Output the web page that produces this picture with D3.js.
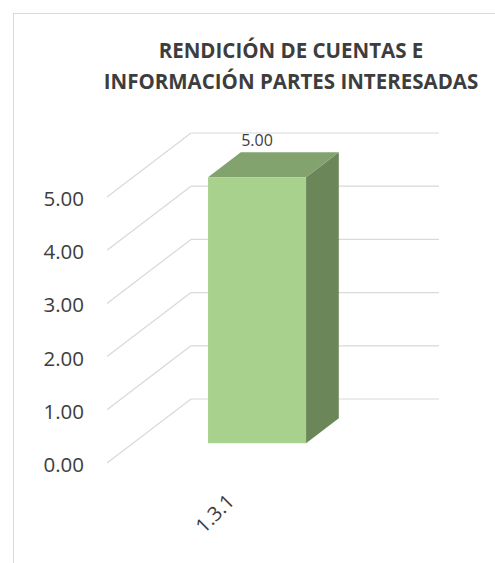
<!DOCTYPE html>
<html>
<head>
<meta charset="utf-8">
<script src="https://cdn.jsdelivr.net/npm/d3@7"></script>
<style>
  body { margin: 0; background: #fff; }
  text { font-family: "Open Sans", "Noto Sans", sans-serif; }
</style>
</head>
<body>
<svg id="chart" width="495" height="563"></svg>
<script>
// chart data
var categories = ['1.3.1'];
var values = [5.00];
var yTicks = [0, 1, 2, 3, 4, 5];
var titleLines = ['RENDICIÓN DE CUENTAS E', 'INFORMACIÓN PARTES INTERESADAS'];

var svg = d3.select('#chart');

// 3d oblique offset for full depth of the plot
var depthX = 84, depthY = 64;
var barD0 = 0.31, barD1 = 0.70;

var x = d3.scaleBand()
    .domain(categories)
    .range([107, 355])
    .paddingInner(0)
    .paddingOuter(0.765);

var y = d3.scaleLinear()
    .domain([0, 5])
    .range([463, 197]);

function proj(px, v, d) {
    return [px + d * depthX, y(v) - d * depthY];
}

// chart border
svg.append('rect')
    .attr('x', 13.5).attr('y', 13.5)
    .attr('width', 600).attr('height', 600)
    .attr('fill', 'none')
    .attr('stroke', '#d9d9d9')
    .attr('stroke-width', 1);

// title
svg.append('g').selectAll('text')
    .data(titleLines).enter()
    .append('text')
    .attr('x', 291)
    .attr('y', function(d, i){ return 58 + i * 31; })
    .attr('text-anchor', 'middle')
    .style('font-weight', 'bold')
    .style('font-size', '20.5px')
    .style('fill', '#3d3d3d')
    .text(function(d){ return d; });

var grid = svg.append('g').attr('class', 'grid')
    .attr('stroke', '#d9d9d9').attr('stroke-width', 1.2).attr('fill', 'none');

// side wall lines (front -> back)
grid.selectAll('.side')
    .data(yTicks).enter()
    .append('line')
    .attr('x1', x.range()[0])
    .attr('y1', function(d){ return y(d); })
    .attr('x2', function(d){ return proj(x.range()[0], d, 1)[0]; })
    .attr('y2', function(d){ return proj(x.range()[0], d, 1)[1]; });

// back wall lines
grid.selectAll('.back')
    .data(yTicks).enter()
    .append('line')
    .attr('x1', function(d){ return proj(x.range()[0], d, 1)[0]; })
    .attr('y1', function(d){ return proj(x.range()[0], d, 1)[1]; })
    .attr('x2', function(d){ return proj(x.range()[1], d, 1)[0]; })
    .attr('y2', function(d){ return proj(x.range()[1], d, 1)[1]; });

// y tick labels
svg.append('g').selectAll('text')
    .data(yTicks).enter()
    .append('text')
    .attr('x', 84)
    .attr('y', function(d){ return y(d) + 9; })
    .attr('text-anchor', 'end')
    .style('font-size', '20.5px')
    .style('fill', '#3d3d3d')
    .text(function(d){ return d3.format('.2f')(d); });

// bars
var bars = svg.append('g').selectAll('g')
    .data(values).enter()
    .append('g');

function poly(pts) {
    return 'M' + pts.map(function(p){ return p.join(','); }).join('L') + 'Z';
}

bars.each(function(v, i) {
    var g = d3.select(this);
    var x0 = x(categories[i]), x1 = x0 + x.bandwidth();
    // side face
    g.append('path')
        .attr('d', poly([proj(x1, 0, barD0), proj(x1, v, barD0), proj(x1, v, barD1), proj(x1, 0, barD1)]))
        .attr('fill', '#6b875a');
    // top face
    g.append('path')
        .attr('d', poly([proj(x0, v, barD0), proj(x1, v, barD0), proj(x1, v, barD1), proj(x0, v, barD1)]))
        .attr('fill', '#83a36e');
    // front face
    g.append('path')
        .attr('d', poly([proj(x0, 0, barD0), proj(x1, 0, barD0), proj(x1, v, barD0), proj(x0, v, barD0)]))
        .attr('fill', '#a9d18e');
    // value label
    var c = proj(x0 + x.bandwidth() / 2, v, barD0);
    g.append('text')
        .attr('x', c[0])
        .attr('y', proj(x0, v, barD1)[1] - 6)
        .attr('text-anchor', 'middle')
        .style('font-size', '16px')
        .style('fill', '#3d3d3d')
        .text(d3.format('.2f')(v));
});

// category labels
svg.append('g').selectAll('text')
    .data(categories).enter()
    .append('text')
    .attr('transform', function(d){
        return 'translate(' + (x(d) + x.bandwidth() / 2 - 6) + ',492) rotate(-45)';
    })
    .attr('text-anchor', 'end')
    .attr('dy', '0.75em')
    .style('font-size', '20px')
    .style('fill', '#3d3d3d')
    .text(function(d){ return d; });
</script>
</body>
</html>
